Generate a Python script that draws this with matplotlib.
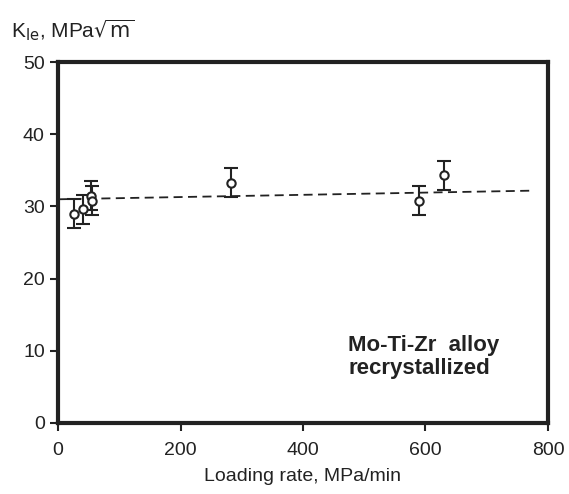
import matplotlib.pyplot as plt

plt.rcParams['font.family'] = ['Liberation Sans', 'DejaVu Sans']

# Data
loading_rate = [26, 41, 54, 56, 282, 590, 630]
k_ie = [29.0, 29.6, 31.5, 30.8, 33.3, 30.8, 34.3]
k_err = [2.0, 2.0, 2.0, 2.0, 2.0, 2.0, 2.0]

# fit line (dashed)
fit_x = [0, 777]
fit_y = [31.0, 32.2]

fig = plt.figure(figsize=(5.69, 4.94), dpi=100)
ax = fig.add_axes([0.102, 0.144, 0.861, 0.730])

ax.plot(fit_x, fit_y, linestyle=(0, (5, 3)), color='#222222', linewidth=1.3)
ax.errorbar(loading_rate, k_ie, yerr=k_err, fmt='o', mfc='white', mec='#222222',
            ecolor='#222222', ms=6, mew=1.5, elinewidth=1.5, capsize=5, capthick=1.8)

ax.set_xlim(0, 800)
ax.set_ylim(0, 50)
ax.set_xticks([0, 200, 400, 600, 800])
ax.set_yticks([0, 10, 20, 30, 40, 50])
ax.tick_params(labelsize=14, width=1.5, length=6, direction='out', colors='#222222')
ax.tick_params(axis='x', pad=8)
for s in ax.spines.values():
    s.set_linewidth(3)
    s.set_color('#222222')

ax.set_xlabel('Loading rate, MPa/min', fontsize=14, color='#222222', labelpad=6)
fig.text(0.02, 0.925, r'K$_{\mathrm{Ie}}$, MPa$\sqrt{\mathrm{m}}$', fontsize=15, color='#222222')

ax.text(474, 6.8, 'Mo-Ti-Zr  alloy\nrecrystallized', ha='left', va='baseline',
        fontsize=16, fontweight='bold', color='#222222', linespacing=1.1)

fig.savefig('out.png', dpi=100)
